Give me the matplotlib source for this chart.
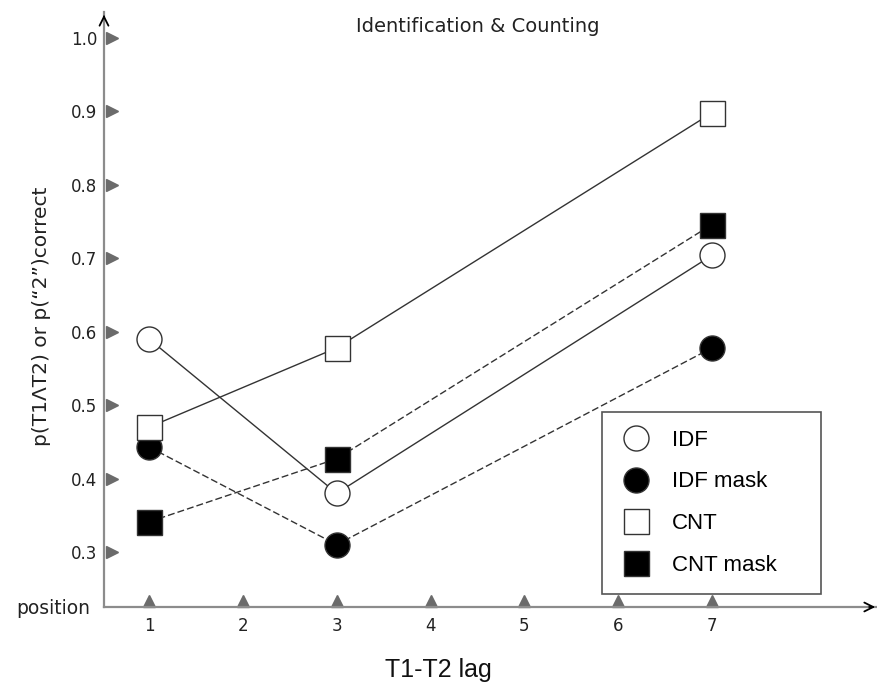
import matplotlib
matplotlib.use("Agg")
from matplotlib import pyplot as plt
from matplotlib import transforms
from matplotlib.lines import Line2D

# data
lags = [1, 3, 7]
idf = [0.59, 0.38, 0.704]
idf_mask = [0.443, 0.31, 0.578]
cnt = [0.47, 0.578, 0.898]
cnt_mask = [0.341, 0.427, 0.746]

xticks = [1, 2, 3, 4, 5, 6, 7]
yticks = [0.3, 0.4, 0.5, 0.6, 0.7, 0.8, 0.9, 1.0]
series_names = ['IDF', 'IDF mask', 'CNT', 'CNT mask']

W, H = 878, 684
fig = plt.figure(figsize=(W / 100, H / 100), dpi=100)
ax = fig.add_axes([104 / W, (H - 607) / H, (W - 104) / W, (607 - 12) / H])
ax.set_xlim(0.52, 8.769)
ax.set_ylim(0.2251, 1.0354)

line_col = '#333333'
axis_col = '#8c8c8c'
tri_col = '#6b6b6b'

styles = [
    dict(marker='o', mfc='white', ls='-'),
    dict(marker='o', mfc='black', ls=(0, (5, 2.2))),
    dict(marker='s', mfc='white', ls='-'),
    dict(marker='s', mfc='black', ls=(0, (5, 2.2))),
]
for i, (vals, st) in enumerate(zip([idf, idf_mask, cnt, cnt_mask], styles)):
    ax.plot(lags, vals, color=line_col, lw=1.0, linestyle=st['ls'],
            marker=st['marker'], markersize=18, mfc=st['mfc'], mec=line_col,
            mew=1.0, zorder=3 + i, clip_on=False)

# axes look
for s in ['top', 'right']:
    ax.spines[s].set_visible(False)
for s in ['left', 'bottom']:
    ax.spines[s].set_color(axis_col)
    ax.spines[s].set_linewidth(1.6)

ax.set_xticks(xticks)
ax.set_yticks(yticks)
ax.set_yticklabels(['%.1f' % v for v in yticks])
ax.tick_params(axis='both', length=0, labelsize=12, labelcolor='#222222')
ax.tick_params(axis='y', pad=5)
ax.tick_params(axis='x', pad=7.5)

# triangle tick marks
ty = transforms.blended_transform_factory(ax.transAxes, ax.transData) + \
    transforms.ScaledTranslation(8 / 100, 0, fig.dpi_scale_trans)
ax.plot([0] * len(yticks), yticks, ls='none', marker='>', markersize=8.6,
        color=tri_col, transform=ty, clip_on=False, zorder=2)
tx = transforms.blended_transform_factory(ax.transData, ax.transAxes) + \
    transforms.ScaledTranslation(0, 6 / 100, fig.dpi_scale_trans)
ax.plot(xticks, [0] * len(xticks), ls='none', marker='^', markersize=8.6,
        color=tri_col, transform=tx, clip_on=False, zorder=2)

# arrow heads at the axis ends
ax.annotate('', xy=(0, 1), xytext=(0, 0.985), xycoords='axes fraction',
            arrowprops=dict(arrowstyle='->', color='black', lw=1.3,
                            mutation_scale=16), annotation_clip=False)
ax.annotate('', xy=(1, 0), xytext=(0.985, 0), xycoords='axes fraction',
            arrowprops=dict(arrowstyle='->', color='black', lw=1.3,
                            mutation_scale=16), annotation_clip=False)

# texts
fig.text(478 / W, 1 - 32 / H, 'Identification & Counting', ha='center',
         va='baseline', fontsize=14, color='#222222')
fig.text(90 / W, 1 - 609 / H, 'position', ha='right', va='center',
         fontsize=13.5, color='#222222')
fig.text(438 / W, 1 - 677 / H, 'T1-T2 lag', ha='center', va='baseline',
         fontsize=18, family='Liberation Sans', color='#111111')
fig.text(47 / W, 1 - 316 / H, 'p(T1\u039bT2) or p(\u201c2\u201d)correct',
         rotation=90, rotation_mode='anchor', ha='center', va='baseline',
         fontsize=14.5, color='#222222')

# legend
handles = [Line2D([], [], ls='none', marker=st['marker'], markersize=18,
                  mfc=st['mfc'], mec=line_col, mew=1.0) for st in styles]
leg = fig.legend(handles, series_names, loc='upper left',
                 bbox_to_anchor=(602 / W, 1 - 412 / H - 0.01, (821 - 602) / W, 0.01),
                 mode='expand', prop={'family': 'Liberation Sans', 'size': 16},
                 fancybox=False, framealpha=1, edgecolor='#555555',
                 borderpad=0.8, labelspacing=0.93, handlelength=1.44,
                 handletextpad=0.9, borderaxespad=0)
leg.get_frame().set_linewidth(1.2)

plt.savefig('out.png', dpi=100)
